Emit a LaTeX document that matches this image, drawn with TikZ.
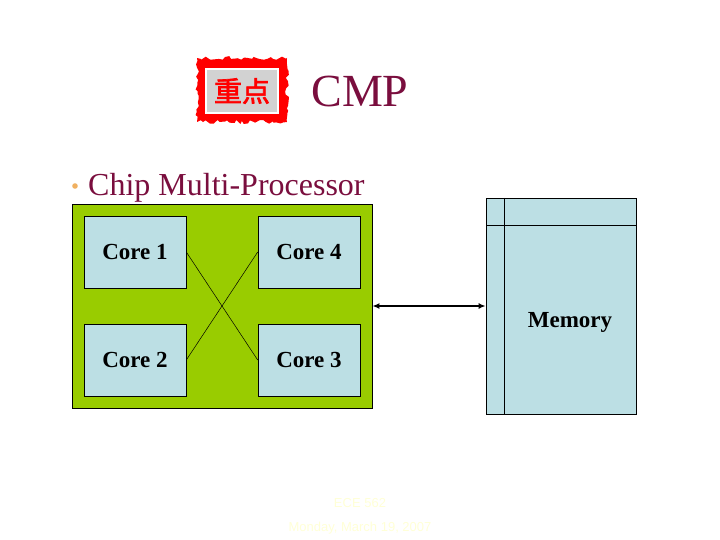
\documentclass[tikz,border=0pt]{standalone}
\usepackage{fontspec}
\setmainfont{Liberation Serif}
\newfontfamily\cjk[FakeBold=2.5]{Noto Sans CJK SC}
\newfontfamily\footfont{Liberation Sans}
\usetikzlibrary{decorations.pathmorphing,arrows.meta}
\definecolor{titlered}{RGB}{122,14,62}
\definecolor{bulletorange}{RGB}{240,176,96}
\definecolor{chipgreen}{RGB}{153,204,0}
\definecolor{coreblue}{RGB}{188,223,228}
\definecolor{footyellow}{RGB}{255,255,214}
\begin{document}
\begin{tikzpicture}[x=1pt,y=-1pt,
    core/.style={fill=coreblue,draw=black,line width=.6pt,minimum width=102pt,minimum height=72pt,inner sep=0pt,font=\fontsize{23}{26}\selectfont\bfseries},
    foot/.style={text=footyellow,font=\footfont\fontsize{13}{15}\selectfont}]
    \useasboundingbox (0,0) rectangle (720,540);

    % heading
    \pgfmathsetseed{7}
    \fill[red,decorate,decoration={random steps,segment length=3pt,amplitude=2pt}] (197,58) rectangle (287,122);
    \fill[white] (205,68) rectangle (279,114);
    \fill[gray!35] (207,70) rectangle (277,112);
    \node[text=red,font=\cjk\fontsize{28}{30}\selectfont] at (242,91) (stamp) {重点};
    \node[text=titlered,font=\fontsize{46}{50}\selectfont] at (360,91) (title) {CMP};

    \fill[bulletorange] (75,186) circle (2.8);
    \node[anchor=base west,inner sep=0pt,text=titlered,font=\fontsize{32}{36}\selectfont] at (88,196) (subtitle) {Chip Multi-Processor};

    % chip with four cores
    \node[fill=chipgreen,draw=black,line width=.8pt,minimum width=300pt,minimum height=204pt] at (222,306) (chip) {};
    \node[core] at (135,252) (c1) {Core 1};
    \node[core] at (309,252) (c4) {Core 4};
    \node[core] at (135,360) (c2) {Core 2};
    \node[core] at (309,360) (c3) {Core 3};

    \draw[line width=.5pt] (c1.east) -- (c3.west);
    \draw[line width=.5pt] (c2.east) -- (c4.west);

    % memory
    \node[fill=coreblue,draw=black,line width=.8pt,minimum width=150pt,minimum height=216pt] at (561,306) (mem) {};
    \draw[line width=.8pt] (504,198) -- (504,414);
    \draw[line width=.8pt] (486,225) -- (636,225);
    \node[font=\fontsize{23}{26}\selectfont\bfseries] at (570,322) (memlabel) {Memory};

    \draw[{Latex[length=7pt,width=6pt]}-{Latex[length=7pt,width=6pt]},line width=1.4pt] (chip.east) -- (mem.west);

    \node[foot] at (360,503) (course) {ECE 562};
    \node[foot] at (360,528) (date) {Monday, March 19, 2007};
\end{tikzpicture}
\end{document}
